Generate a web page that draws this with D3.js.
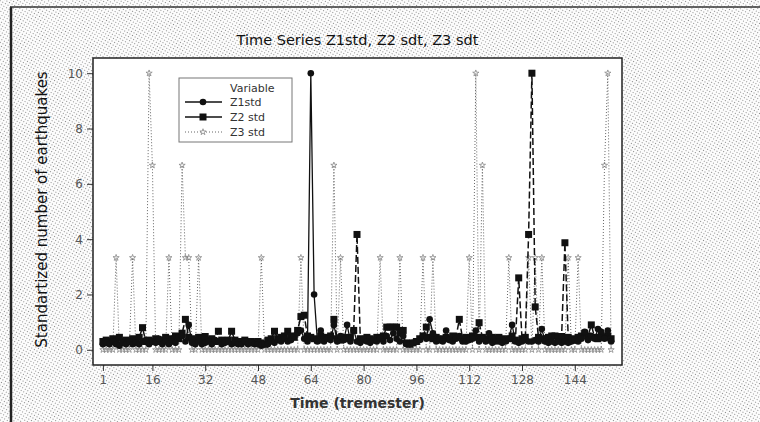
<!DOCTYPE html>
<html>
<head>
<meta charset="utf-8">
<script src="https://cdn.jsdelivr.net/npm/d3@7"></script>
<style>
    body { margin: 0; background: #fff; }
    text { font-family: "DejaVu Sans", Verdana, sans-serif; }
</style>
</head>
<body>
<div id="chart"></div>
<script>
// values, index 1..155
const z1 = [
    0.2, 0.25, 0.2, 0.3, 0.2, 0.15, 0.25, 0.2, 0.3, 0.2,
    0.25, 0.2, 0.3, 0.35, 0.2, 0.3, 0.25, 0.4, 0.2, 0.3,
    0.2, 0.3, 0.25, 0.45, 0.5, 0.3, 0.9, 0.25, 0.2, 0.3,
    0.2, 0.25, 0.3, 0.2, 0.35, 0.3, 0.2, 0.25, 0.3, 0.2,
    0.25, 0.2, 0.2, 0.3, 0.2, 0.25, 0.2, 0.2, 0.15, 0.2,
    0.2, 0.3, 0.25, 0.35, 0.3, 0.4, 0.3, 0.35, 0.5, 0.6,
    0.7, 0.4, 0.3, 10, 2.0, 0.3, 0.7, 0.3, 0.4, 0.35,
    0.9, 0.3, 0.5, 0.35, 0.9, 0.3, 0.7, 0.3, 0.25, 0.4,
    0.3, 0.25, 0.35, 0.3, 0.4, 0.3, 0.5, 0.35, 0.6, 0.4,
    0.3, 0.5, 0.2, 0.2, 0.25, 0.3, 0.35, 0.5, 0.4, 1.1,
    0.6, 0.3, 0.4, 0.3, 0.7, 0.35, 0.3, 0.4, 0.5, 0.3,
    0.3, 0.35, 0.4, 0.7, 0.3, 0.4, 0.3, 0.6, 0.25, 0.3,
    0.3, 0.25, 0.3, 0.4, 0.9, 0.3, 0.25, 0.3, 0.35, 0.3,
    0.3, 0.35, 0.3, 0.75, 0.3, 0.25, 0.3, 0.25, 0.3, 0.25,
    0.3, 0.25, 0.3, 0.35, 0.3, 0.4, 0.65, 0.35, 0.5, 0.4,
    0.75, 0.65, 0.4, 0.7, 0.3
];
const z2 = [
    0.3, 0.35, 0.3, 0.4, 0.3, 0.45, 0.3, 0.35, 0.3, 0.4,
    0.3, 0.45, 0.8, 0.3, 0.35, 0.3, 0.4, 0.3, 0.35, 0.45,
    0.4, 0.35, 0.5, 0.4, 0.6, 1.1, 0.45, 0.4, 0.35, 0.45,
    0.4, 0.48, 0.35, 0.4, 0.3, 0.67, 0.35, 0.3, 0.35, 0.67,
    0.35, 0.3, 0.3, 0.35, 0.3, 0.3, 0.25, 0.3, 0.25, 0.2,
    0.35, 0.4, 0.67, 0.4, 0.45, 0.5, 0.67, 0.5, 0.45, 0.7,
    1.2, 1.25, 0.5, 0.45, 0.4, 0.35, 0.5, 0.4, 0.45, 0.5,
    1.1, 0.4, 0.35, 0.45, 0.4, 0.45, 0.7, 4.17, 0.4, 0.35,
    0.45, 0.4, 0.35, 0.45, 0.4, 0.5, 0.82, 0.82, 0.82, 0.82,
    0.6, 0.7, 0.25, 0.2, 0.25, 0.3, 0.4, 0.5, 0.82, 0.45,
    0.4, 0.45, 0.35, 0.4, 0.45, 0.4, 0.5, 0.45, 1.1, 0.4,
    0.45, 0.4, 0.5, 0.45, 0.98, 0.45, 0.4, 0.35, 0.45, 0.4,
    0.45, 0.4, 0.35, 0.4, 0.5, 0.35, 2.6, 0.4, 0.45, 4.17,
    10, 1.55, 0.45, 0.4, 0.35, 0.45, 0.5, 0.5, 0.48, 0.48,
    3.87, 0.45, 0.4, 0.35, 0.45, 0.5, 0.6, 0.5, 0.9, 0.45,
    0.4, 0.5, 0.45, 0.5, 0.4
];
const z3 = [
    0, 0, 0, 0, 3.33, 0, 0, 0, 0, 3.33,
    0, 0, 0, 0, 10, 6.67, 0, 0, 0, 0,
    3.33, 0, 0, 0, 6.67, 3.33, 3.33, 0, 0, 3.33,
    0, 0, 0, 0, 0, 0, 0, 0, 0, 0,
    0, 0, 0, 0, 0, 0, 0, 0, 3.33, 0,
    0, 0, 0, 0, 0, 0, 0, 0, 0, 0,
    3.33, 0, 0, 0, 0, 0, 0, 0, 0, 0,
    6.67, 0, 3.33, 0, 0, 0, 0, 0, 0, 0,
    0, 0, 0, 0, 3.33, 0, 0, 0, 0, 0,
    3.33, 0, 0, 0, 0, 0, 0, 3.33, 0, 0,
    3.33, 0, 0, 0, 0, 0, 0, 0, 0, 0,
    0, 3.33, 0, 10, 0, 6.67, 0, 0, 0, 0,
    0, 0, 0, 3.33, 0, 0, 0, 0, 0, 3.33,
    0, 3.33, 0, 3.33, 0, 0, 0, 0, 0, 0,
    0, 3.33, 0, 0, 3.33, 0, 0, 0, 0, 0,
    0, 0, 6.67, 10, 0
];
const seriesNames = ["Z1std", "Z2 std", "Z3 std"];
const xTicks = [1, 16, 32, 48, 64, 80, 96, 112, 128, 144];
const yTicks = [0, 2, 4, 6, 8, 10];

let W = 760, H = 422;
let margin = {top: 58, right: 138, bottom: 57, left: 93};
let width = W - margin.left - margin.right;
let height = H - margin.top - margin.bottom;

let svg = d3.select("#chart").append("svg")
    .attr("width", W)
    .attr("height", H);

// halftone background like the scan
let defs = svg.append("defs");
let pat = defs.append("pattern")
    .attr("id", "dots")
    .attr("patternUnits", "userSpaceOnUse")
    .attr("width", 3)
    .attr("height", 3)
    .attr("patternTransform", "rotate(30)");
pat.append("rect").attr("width", 3).attr("height", 3).attr("fill", "#fcfcfc");
pat.append("rect").attr("x", 0).attr("y", 0).attr("width", 1).attr("height", 1).attr("fill", "#8a8a8a");

svg.append("rect")
    .attr("width", W)
    .attr("height", H)
    .attr("fill", "url(#dots)");

// outer border of the scanned figure
svg.append("line").attr("x1", 11).attr("x2", 11).attr("y1", 7).attr("y2", H)
    .attr("stroke", "#222").attr("stroke-width", 2.5);
svg.append("line").attr("x1", 10).attr("x2", W).attr("y1", 7).attr("y2", 7)
    .attr("stroke", "#333").attr("stroke-width", 1.5);

let g = svg.append("g")
    .attr("transform", "translate(" + margin.left + "," + margin.top + ")");

g.append("rect")
    .attr("width", width)
    .attr("height", height)
    .attr("fill", "white");

let x = d3.scaleLinear().domain([-2, 158.3]).range([0, width]);
let y = d3.scaleLinear().domain([-0.55, 10.55]).range([height, 0]);

// axes
let xAxis = g.append("g")
    .attr("transform", "translate(0," + height + ")")
    .call(d3.axisBottom(x).tickValues(xTicks).tickSize(6).tickPadding(4));
let yAxis = g.append("g")
    .call(d3.axisLeft(y).tickValues(yTicks).tickSize(6).tickPadding(4));
[xAxis, yAxis].forEach(a => {
    a.select(".domain").remove();
    a.selectAll("line").attr("stroke", "#333");
    a.selectAll("text")
        .style("font-family", "'DejaVu Sans', Verdana, sans-serif")
        .style("font-size", "12px")
        .attr("fill", "#555");
});

let idx = d3.range(1, z1.length + 1);
let line = vals => d3.line().x((d, i) => x(idx[i])).y(d => y(d))(vals);

// Z3: dotted grey with small star markers
g.append("path")
    .attr("d", line(z3))
    .attr("fill", "none")
    .attr("stroke", "#666")
    .attr("stroke-width", 1)
    .attr("stroke-dasharray", "1,2");
g.selectAll(".m3").data(z3).enter().append("path")
    .attr("class", "m3")
    .attr("transform", (d, i) => "translate(" + x(idx[i]) + "," + y(d) + ")")
    .attr("d", d3.symbol(d3.symbolStar).size(12))
    .attr("fill", "none")
    .attr("stroke", "#888")
    .attr("stroke-width", 0.8);

// Z2: dashed black with squares
g.append("path")
    .attr("d", line(z2))
    .attr("fill", "none")
    .attr("stroke", "#111")
    .attr("stroke-width", 1.5)
    .attr("stroke-dasharray", "7,3");
g.selectAll(".m2").data(z2).enter().append("rect")
    .attr("class", "m2")
    .attr("x", (d, i) => x(idx[i]) - 3.5)
    .attr("y", d => y(d) - 3.5)
    .attr("width", 7)
    .attr("height", 7)
    .attr("fill", "#111");

// Z1: solid black with circles
g.append("path")
    .attr("d", line(z1))
    .attr("fill", "none")
    .attr("stroke", "#111")
    .attr("stroke-width", 1.3);
g.selectAll(".m1").data(z1).enter().append("circle")
    .attr("class", "m1")
    .attr("cx", (d, i) => x(idx[i]))
    .attr("cy", d => y(d))
    .attr("r", 3.3)
    .attr("fill", "#111");

// plot frame
g.append("rect")
    .attr("width", width)
    .attr("height", height)
    .attr("fill", "none")
    .attr("stroke", "#222")
    .attr("stroke-width", 1.5);

// titles
svg.append("text")
    .attr("x", margin.left + width / 2)
    .attr("y", 45)
    .attr("text-anchor", "middle")
    .style("font-size", "14.5px")
    .attr("fill", "#111")
    .text("Time Series Z1std, Z2 sdt, Z3 sdt");

svg.append("text")
    .attr("x", margin.left + width / 2)
    .attr("y", 408)
    .attr("text-anchor", "middle")
    .style("font-size", "14px")
    .style("font-weight", "bold")
    .attr("fill", "#333")
    .text("Time (tremester)");

svg.append("text")
    .attr("transform", "translate(47," + (margin.top + height / 2 - 2) + ") rotate(-90)")
    .attr("text-anchor", "middle")
    .style("font-size", "15px")
    .attr("fill", "#111")
    .text("Standartized number of earthquakes");

// legend
let leg = svg.append("g").attr("transform", "translate(179,78)");
leg.append("rect")
    .attr("width", 113)
    .attr("height", 64)
    .attr("fill", "white")
    .attr("stroke", "#777")
    .attr("stroke-width", 1);
leg.append("text")
    .attr("x", 51).attr("y", 14)
    .style("font-size", "11px")
    .attr("fill", "#333")
    .text("Variable");

let rows = leg.selectAll(".row").data(seriesNames).enter().append("g")
    .attr("class", "row")
    .attr("transform", (d, i) => "translate(0," + (24 + i * 15) + ")");
rows.append("line")
    .attr("x1", 6).attr("x2", 43)
    .attr("stroke", (d, i) => i == 2 ? "#666" : "#111")
    .attr("stroke-width", (d, i) => i == 2 ? 1 : 1.3)
    .attr("stroke-dasharray", (d, i) => i == 2 ? "1,2" : null);
rows.append("text")
    .attr("x", 51).attr("y", 4)
    .style("font-size", "11px")
    .attr("fill", "#333")
    .text(d => d);
rows.filter((d, i) => i == 0).append("circle").attr("cx", 24).attr("r", 3.3).attr("fill", "#111");
rows.filter((d, i) => i == 1).append("rect").attr("x", 20.5).attr("y", -3.5).attr("width", 7).attr("height", 7).attr("fill", "#111");
rows.filter((d, i) => i == 2).append("path")
    .attr("transform", "translate(24,0)")
    .attr("d", d3.symbol(d3.symbolStar).size(12))
    .attr("fill", "white")
    .attr("stroke", "#888")
    .attr("stroke-width", 0.8);
</script>
</body>
</html>
